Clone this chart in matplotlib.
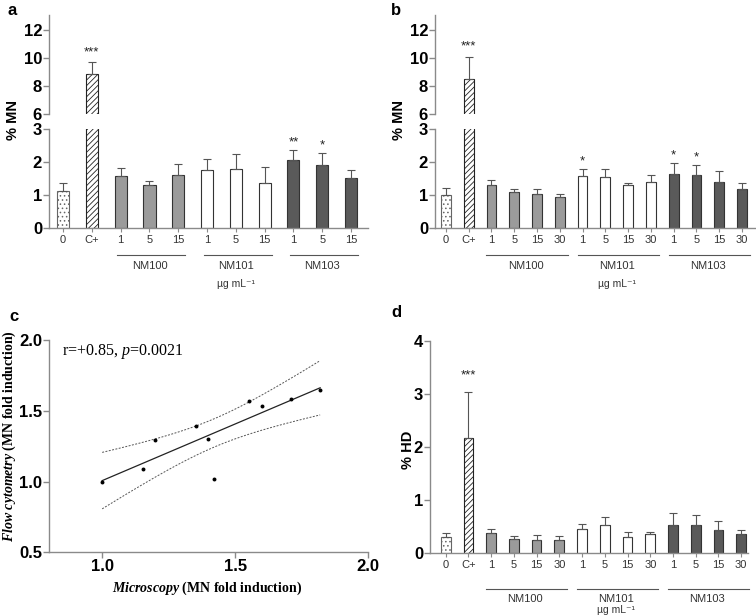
import numpy as np
import matplotlib.pyplot as plt
from matplotlib.transforms import blended_transform_factory

plt.rcParams['font.family'] = ['Liberation Sans', 'DejaVu Sans']
plt.rcParams['hatch.linewidth'] = 0.6
plt.rcParams['mathtext.fontset'] = 'custom'
plt.rcParams['mathtext.it'] = 'Liberation Serif:italic:bold'
plt.rcParams['mathtext.rm'] = 'Liberation Serif:bold'
plt.rcParams['mathtext.sf'] = 'Liberation Serif:italic'

# ---- data ----
groups = ['NM100', 'NM101', 'NM103']

# panel a (doses 1, 5, 15)
a_labels = ['0', 'C+', '1', '5', '15', '1', '5', '15', '1', '5', '15']
a_mean = [1.12, 8.85, 1.58, 1.30, 1.60, 1.75, 1.80, 1.35, 2.05, 1.92, 1.52]
a_err = [0.23, 0.85, 0.24, 0.13, 0.35, 0.35, 0.45, 0.50, 0.32, 0.35, 0.25]
a_sig = ['', '***', '', '', '', '', '', '', '**', '*', '']

# panel b (doses 1, 5, 15, 30)
b_labels = ['0', 'C+', '1', '5', '15', '30', '1', '5', '15', '30', '1', '5', '15', '30']
b_mean = [1.00, 8.50, 1.30, 1.10, 1.02, 0.95, 1.57, 1.55, 1.30, 1.40, 1.65, 1.60, 1.40, 1.18]
b_err = [0.22, 1.60, 0.15, 0.08, 0.15, 0.07, 0.23, 0.23, 0.05, 0.20, 0.32, 0.30, 0.33, 0.17]
b_sig = ['', '***', '', '', '', '', '*', '', '', '', '*', '*', '', '']

# panel d (% HD)
d_mean = [0.30, 2.17, 0.37, 0.27, 0.24, 0.24, 0.45, 0.53, 0.31, 0.35, 0.52, 0.52, 0.43, 0.35]
d_err = [0.08, 0.86, 0.09, 0.05, 0.10, 0.08, 0.10, 0.14, 0.08, 0.05, 0.23, 0.19, 0.18, 0.08]
d_sig = ['', '***', '', '', '', '', '', '', '', '', '', '', '', '']

# panel c (correlation)
micro = [1.00, 1.154, 1.199, 1.354, 1.398, 1.42, 1.554, 1.60, 1.711, 1.82]
flow = [1.00, 1.09, 1.293, 1.392, 1.302, 1.019, 1.57, 1.536, 1.583, 1.647]

W, H = 756, 615
fig = plt.figure(figsize=(W / 100, H / 100), dpi=100)
AX_COL = '#8a8a8a'


def px_axes(x0, y0, x1, y1):
    return fig.add_axes([x0 / W, 1 - y1 / H, (x1 - x0) / W, (y1 - y0) / H])


def bar_styles(n_dose):
    st = [dict(facecolor='white', hatch='....', edgecolor='#666666'),
          dict(facecolor='white', hatch='//////', edgecolor='#222222')]
    fills = ['#9b9b9b', 'white', '#5a5a5a']
    for f in fills:
        st += [dict(facecolor=f, edgecolor='#333333')] * n_dose
    return st


def draw_bars(ax, mean, err, n_dose, width):
    x = np.arange(len(mean))
    for i, s in enumerate(bar_styles(n_dose)):
        ax.bar(x[i], mean[i], width=width, linewidth=0.8, **s)
    ax.errorbar(x, mean, yerr=[np.zeros(len(err)), err], fmt='none',
                ecolor='#555555', elinewidth=0.8, capsize=3, capthick=0.8)


def style(ax, bottom=True):
    for s in ['top', 'right']:
        ax.spines[s].set_visible(False)
    ax.spines['left'].set_color(AX_COL)
    ax.spines['bottom'].set_color(AX_COL)
    ax.spines['left'].set_linewidth(1.0)
    ax.spines['bottom'].set_linewidth(1.0)
    ax.tick_params(axis='y', colors=AX_COL, labelcolor='black', length=4, width=1.0,
                   labelsize=12, pad=1)
    for t in ax.get_yticklabels():
        t.set_fontweight('bold')
    if bottom:
        ax.tick_params(axis='x', colors=AX_COL, labelcolor='#333333', length=3,
                       width=0.8, labelsize=8, pad=2)
    else:
        ax.spines['bottom'].set_visible(False)
        ax.tick_params(axis='x', bottom=False, labelbottom=False)


def stars(ax, mean, err, sig, off=1):
    for i, s in enumerate(sig):
        if s:
            ax.annotate(s, (i, mean[i] + err[i]), xytext=(0, off), textcoords='offset points',
                        ha='center', va='bottom', fontsize=9.5, color='#222222')


def group_lines(ax, n_dose, y_line, y_text, y_unit, lpad, rpad):
    tr = blended_transform_factory(ax.transData, fig.transFigure)
    for g, name in enumerate(groups):
        s = 2 + g * n_dose
        e = s + n_dose - 1
        ax.plot([s - lpad, e + rpad], [1 - y_line / H] * 2, transform=tr,
                color='#555555', lw=0.8, clip_on=False)
        ax.text((s + e) / 2, 1 - y_text / H, name, transform=tr, ha='center',
                va='center', fontsize=8, color='#333333')
    mid = 2 + n_dose + (n_dose - 1) / 2
    ax.text(mid, 1 - y_unit / H, 'µg mL⁻¹', transform=tr, ha='center',
            va='center', fontsize=7.5, color='#333333',
            family=['Liberation Sans', 'DejaVu Sans'])


def broken_panel(x0, x1, mean, err, sig, labels, n_dose, width, xl, xr, lpad, rpad, ylab_x):
    top = px_axes(x0, 15, x1, 114)
    bot = px_axes(x0, 129, x1, 228)
    for ax in (top, bot):
        draw_bars(ax, mean, err, n_dose, width)
        ax.set_xlim(xl, xr)
    top.set_ylim(6, 13.1)
    top.set_yticks([6, 8, 10, 12])
    bot.set_ylim(0, 3)
    bot.set_yticks([0, 1, 2, 3])
    style(top, bottom=False)
    style(bot)
    bot.set_xticks(np.arange(len(labels)))
    bot.set_xticklabels(labels)
    stars(top, mean, err, sig, off=3)
    stars(bot, mean, err, sig)
    group_lines(bot, n_dose, 254.5, 266, 284, lpad, rpad)
    fig.text(ylab_x / W, 1 - 120 / H, '% MN', rotation=90, ha='center', va='center',
             fontsize=10.5, fontweight='bold')


# ---- panel a ----
broken_panel(49, 368, a_mean, a_err, a_sig, a_labels, 3, 0.42, -0.49, 10.59, 0.12, 0.25, 13)
# ---- panel b ----
broken_panel(435, 755, b_mean, b_err, b_sig, b_labels, 4, 0.43, -0.48, 13.57, 0.22, 0.35, 399)

# ---- panel d ----
axd = px_axes(430, 340.7, 748, 553)
draw_bars(axd, d_mean, d_err, 4, 0.43)
axd.set_xlim(-0.69, 13.3)
axd.set_ylim(0, 4)
axd.set_yticks([0, 1, 2, 3, 4])
style(axd)
axd.set_xticks(np.arange(len(b_labels)))
axd.set_xticklabels(b_labels)
stars(axd, d_mean, d_err, d_sig, off=8)
group_lines(axd, 4, 589, 599, 610, 0.22, 0.35)
fig.text(408 / W, 1 - 450 / H, '% HD', rotation=90, ha='center', va='center',
         fontsize=10.5, fontweight='bold')

# ---- panel c ----
axc = px_axes(49, 340, 368, 552.3)
x = np.array(micro)
y = np.array(flow)
n = len(x)
slope, icept = np.polyfit(x, y, 1)
xs = np.linspace(x.min(), x.max(), 100)
ys = icept + slope * xs
resid = y - (icept + slope * x)
s_err = np.sqrt(np.sum(resid ** 2) / (n - 2))
t_val = 2.306  # t(0.975, df=8)
ci = t_val * s_err * np.sqrt(1 / n + (xs - x.mean()) ** 2 / np.sum((x - x.mean()) ** 2))
axc.plot(xs, ys, color='#222222', lw=0.9)
axc.plot(xs, ys + ci, color='#555555', lw=0.7, ls=(0, (2, 1.5)))
axc.plot(xs, ys - ci, color='#555555', lw=0.7, ls=(0, (2, 1.5)))
axc.scatter(x, y, s=8, color='black', zorder=3, linewidths=0)
axc.set_xlim(0.8, 2.0)
axc.set_ylim(0.5, 2.0)
axc.set_xticks([1.0, 1.5, 2.0])
axc.set_yticks([0.5, 1.0, 1.5, 2.0])
axc.set_xticklabels(['1.0', '1.5', '2.0'])
axc.set_yticklabels(['0.5', '1.0', '1.5', '2.0'])
style(axc)
axc.tick_params(axis='x', labelcolor='black', labelsize=12, length=4, width=1.0, pad=1)
for t in axc.get_xticklabels():
    t.set_fontweight('bold')
axc.text(0.85, 1.92, 'r=+0.85, $\\mathsf{p}$=0.0021', fontsize=11.5,
         family='Liberation Serif', ha='left', va='center')
fig.text(207 / W, 1 - 588 / H, '$Microscopy$ (MN fold induction)', ha='center', va='center',
         fontsize=10, family='Liberation Serif', fontweight='bold')
fig.text(9 / W, 1 - 436 / H, '$Flow\\ cytometry$ (MN fold induction)', rotation=90,
         ha='center', va='center', fontsize=10, family='Liberation Serif', fontweight='bold')

# panel letters
for lab, px, py in [('a', 7, 3), ('b', 391, 3), ('c', 9, 309), ('d', 391, 305)]:
    fig.text(px / W, 1 - py / H, lab, ha='left', va='top', fontsize=12, fontweight='bold')

fig.savefig('out.png', dpi=100)
